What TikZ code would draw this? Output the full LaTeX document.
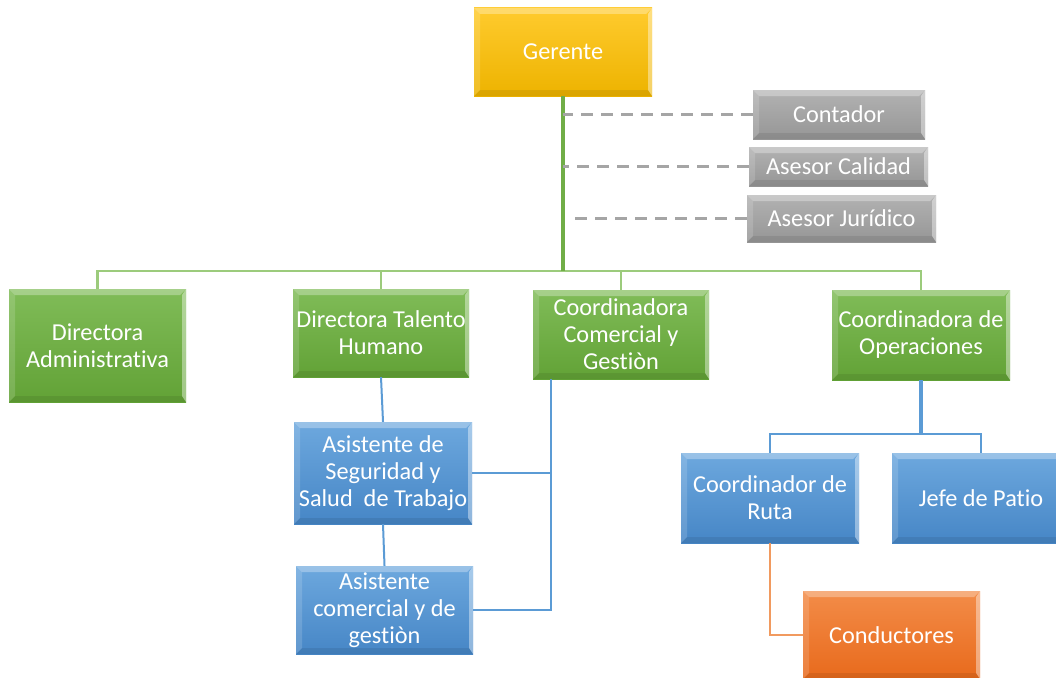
\documentclass[tikz,border=0pt]{standalone}
\usepackage{fontspec}
\setmainfont[Ligatures={NoCommon,NoContextual}]{Carlito}
\definecolor{gold1}{HTML}{FFCB2E}
\definecolor{gold2}{HTML}{EDB300}
\definecolor{grn1}{HTML}{80BC58}
\definecolor{grn2}{HTML}{62A236}
\definecolor{blu1}{HTML}{6DA8DE}
\definecolor{blu2}{HTML}{4686C6}
\definecolor{gry1}{HTML}{B2B2B2}
\definecolor{gry2}{HTML}{969696}
\definecolor{org1}{HTML}{F38C48}
\definecolor{org2}{HTML}{E86A1C}
\definecolor{glin}{HTML}{70AD47}
\definecolor{lglin}{HTML}{9CCB7C}
\definecolor{blin}{HTML}{5B9BD5}
\definecolor{dlin}{HTML}{A5A5A5}
\definecolor{olin}{HTML}{F19A5F}
\begin{document}
\begin{tikzpicture}[x=1pt,y=-1pt,
  box/.style={rectangle, draw=none, text=white, align=center, inner sep=0pt,
    font=\fontsize{24.3}{27}\selectfont,
    path picture={
      \fill[white,opacity=.3] (path picture bounding box.north west) -- (path picture bounding box.north east) -- ([shift={(-6pt,-6pt)}]path picture bounding box.north east) -- ([shift={(6pt,-6pt)}]path picture bounding box.north west) -- cycle;
      \fill[white,opacity=.15] (path picture bounding box.north west) -- ([shift={(6pt,-6pt)}]path picture bounding box.north west) -- ([shift={(6pt,6pt)}]path picture bounding box.south west) -- (path picture bounding box.south west) -- cycle;
      \fill[white,opacity=.4] (path picture bounding box.north east) -- ([shift={(-4pt,-6pt)}]path picture bounding box.north east) -- ([shift={(-4pt,6pt)}]path picture bounding box.south east) -- (path picture bounding box.south east) -- cycle;
      \fill[black,opacity=.08] (path picture bounding box.south west) -- ([shift={(6pt,6pt)}]path picture bounding box.south west) -- ([shift={(-4pt,6pt)}]path picture bounding box.south east) -- (path picture bounding box.south east) -- cycle;
    }},
  goldbox/.style={box, top color=gold1, bottom color=gold2},
  grnbox/.style={box, top color=grn1, bottom color=grn2},
  blubox/.style={box, top color=blu1, bottom color=blu2},
  grybox/.style={box, top color=gry1, bottom color=gry2},
  orgbox/.style={box, top color=org1, bottom color=org2},
  gmain/.style={draw=glin, line width=3.5pt},
  gsub/.style={draw=lglin, line width=2.5pt},
  bline/.style={draw=blin, line width=2pt},
  bthick/.style={draw=blin, line width=3.5pt},
  dline/.style={draw=dlin, line width=2.5pt, dash pattern=on 12pt off 8pt},
  oline/.style={draw=olin, line width=2pt}
]
\clip (0,0) rectangle (1056,677);
\fill[white] (0,0) rectangle (1056,677);

% nodes
\node[goldbox, minimum width=178pt, minimum height=88pt] (ger) at (563,52) {Gerente};
\node[grybox, minimum width=172pt, minimum height=49pt] (cont) at (839,114.5) {Contador};
\node[grybox, minimum width=179pt, minimum height=39pt] (cal) at (838.5,166.5) {Asesor Calidad};
\node[grybox, minimum width=189pt, minimum height=47pt] (jur) at (841.5,218.5) {Asesor Jurídico};

\node[grnbox, minimum width=177pt, minimum height=113pt] (dadm) at (97.5,345.5) {Directora\\Administrativa};
\node[grnbox, minimum width=176pt, minimum height=88pt] (dth) at (381,333) {Directora Talento\\Humano};
\node[grnbox, minimum width=176pt, minimum height=89pt] (ccom) at (621,334.5) {Coordinadora\\Comercial y\\Gestiòn};
\node[grnbox, minimum width=178pt, minimum height=90pt] (cop) at (921,335) {Coordinadora de\\Operaciones};

\node[blubox, minimum width=178pt, minimum height=102pt] (aseg) at (383,473) {Asistente de\\Seguridad y\\Salud\ \ de Trabajo};
\node[blubox, minimum width=177pt, minimum height=88pt] (acom) at (384.5,610) {Asistente\\comercial y de\\gestiòn};

\node[blubox, minimum width=178pt, minimum height=90pt] (cruta) at (770,498) {Coordinador de\\Ruta};
\node[blubox, minimum width=178pt, minimum height=90pt] (jefe) at (981,498) {Jefe de Patio};
\node[orgbox, minimum width=177pt, minimum height=88pt] (cond) at (891.5,635) {Conductores};

% coordinates
\coordinate (bus) at (563,271);
\coordinate (obus) at (921,434);
\coordinate (cb) at (551,379);

% connectors
\draw[gsub] (dadm.north) |- (bus) -| (cop.north);
\draw[gsub] (dth.north) -- (dth.north |- bus);
\draw[gsub] (ccom.north) -- (ccom.north |- bus);
\draw[gmain] (ger.south) -- (bus);

\draw[dline] (cont.west) -- (cont.west -| bus);
\draw[dline] (cal.west) -- (cal.west -| bus);
\draw[dline] (jur.west) -- ([xshift=8pt]jur.west -| bus);

\draw[bline] (dth.south) -- (aseg.north);
\draw[bline] (aseg.south) -- (acom.north);
\draw[bline] (cb) |- (acom.east);
\draw[bline] (aseg.east) -- (aseg.east -| cb);

\draw[bthick] (cop.south) -- (obus);
\draw[bline] (cruta.north) |- (obus) -| (jefe.north);

\draw[oline] (cruta.south) |- (cond.west);
\end{tikzpicture}
\end{document}
